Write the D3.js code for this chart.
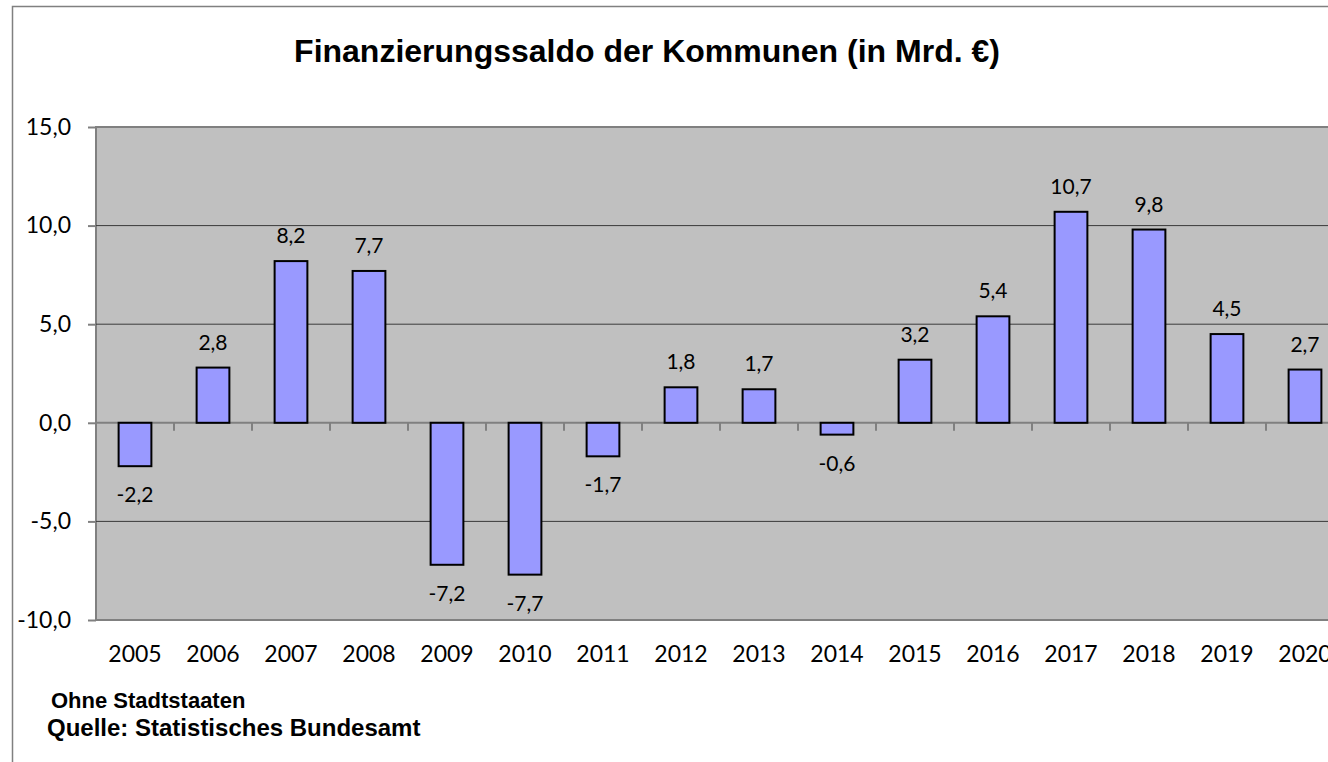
<!DOCTYPE html>
<html lang="de">

<head>
    <meta charset="UTF-8">
    <script src="https://cdnjs.cloudflare.com/ajax/libs/d3/7.9.0/d3.min.js"></script>
    <title>Finanzierungssaldo der Kommunen</title>
    <style>
        body {
            margin: 0;
            background-color: white;
        }

        svg {
            display: block;
        }
    </style>
</head>

<body>
    <div id="content"></div>
    <script>
        // chart data
        const years = ["2005", "2006", "2007", "2008", "2009", "2010", "2011", "2012",
            "2013", "2014", "2015", "2016", "2017", "2018", "2019", "2020"];
        const saldo = [-2.2, 2.8, 8.2, 7.7, -7.2, -7.7, -1.7, 1.8, 1.7, -0.6, 3.2, 5.4, 10.7, 9.8, 4.5, 2.7];
        const yTicks = [-10, -5, 0, 5, 10, 15];

        const width = 1328;
        const height = 762;
        const plot = { left: 96, top: 127, bottom: 620, step: 78 };

        // german number format, plain hyphen as minus sign
        const de = d3.formatLocale({ decimal: ",", thousands: ".", grouping: [3], currency: ["", " €"], minus: "-" });
        const fmt = de.format(".1f");

        const svg = d3.select("#content").append("svg")
            .attr("width", width)
            .attr("height", height)
            .style("overflow", "hidden");

        // outer chart frame
        svg.append("rect")
            .attr("x", 12.5)
            .attr("y", 6.5)
            .attr("width", width + 20)
            .attr("height", height + 20)
            .attr("fill", "white")
            .attr("stroke", "#808080")
            .attr("stroke-width", 1.5);

        const x = d3.scaleBand()
            .domain(years)
            .range([plot.left, plot.left + plot.step * years.length])
            .paddingInner(0.58)
            .paddingOuter(0.29);

        const y = d3.scaleLinear()
            .domain([-10, 15])
            .range([plot.bottom, plot.top]);

        // plot area
        svg.append("rect")
            .attr("x", plot.left)
            .attr("y", y(15))
            .attr("width", plot.step * years.length)
            .attr("height", y(-10) - y(15))
            .attr("fill", "#c0c0c0")
            .attr("stroke", "#808080")
            .attr("stroke-width", 2);

        // gridlines
        svg.append("g")
            .selectAll("line")
            .data(yTicks.filter(d => d !== 0 && d !== 15 && d !== -10))
            .join("line")
            .attr("x1", plot.left)
            .attr("x2", plot.left + plot.step * years.length)
            .attr("y1", d => y(d))
            .attr("y2", d => y(d))
            .attr("stroke", "#3a3a3a")
            .attr("stroke-width", 1);

        // y axis
        const yAxis = d3.axisLeft(y)
            .tickValues(yTicks)
            .tickSize(8)
            .tickPadding(17)
            .tickFormat(fmt);
        const gy = svg.append("g")
            .attr("transform", `translate(${plot.left}, 0)`)
            .call(yAxis);
        gy.select(".domain").remove();
        gy.selectAll(".tick line").attr("stroke", "#808080").attr("stroke-width", 2);
        gy.selectAll("text")
            .attr("font-family", "Lato, sans-serif")
            .attr("font-size", 23)
            .attr("fill", "black");

        // x axis labels
        const xAxis = d3.axisBottom(x).tickSize(0).tickPadding(26);
        const gx = svg.append("g")
            .attr("transform", `translate(0, ${plot.bottom})`)
            .call(xAxis);
        gx.select(".domain").remove();
        gx.selectAll("text")
            .attr("font-family", "Lato, sans-serif")
            .attr("font-size", 23)
            .attr("fill", "black");

        // zero line with category ticks
        svg.append("line")
            .attr("x1", plot.left)
            .attr("x2", plot.left + plot.step * years.length)
            .attr("y1", y(0))
            .attr("y2", y(0))
            .attr("stroke", "#808080")
            .attr("stroke-width", 2);

        svg.append("g")
            .selectAll("line")
            .data(years.slice(1))
            .join("line")
            .attr("x1", d => x(d) - x.step() * x.paddingInner() / 2)
            .attr("x2", d => x(d) - x.step() * x.paddingInner() / 2)
            .attr("y1", y(0))
            .attr("y2", y(0) + 8)
            .attr("stroke", "#808080")
            .attr("stroke-width", 2);

        // bars
        svg.append("g")
            .selectAll("rect")
            .data(saldo)
            .join("rect")
            .attr("x", (d, i) => x(years[i]))
            .attr("y", d => y(Math.max(0, d)))
            .attr("width", x.bandwidth())
            .attr("height", d => Math.abs(y(d) - y(0)))
            .attr("fill", "#9999ff")
            .attr("stroke", "black")
            .attr("stroke-width", 2);

        // value labels
        svg.append("g")
            .selectAll("text")
            .data(saldo)
            .join("text")
            .attr("x", (d, i) => x(years[i]) + x.bandwidth() / 2)
            .attr("y", d => d >= 0 ? y(d) - 18 : y(d) + 36)
            .attr("text-anchor", "middle")
            .attr("font-family", "Lato, sans-serif")
            .attr("font-size", 21)
            .attr("fill", "black")
            .text(d => fmt(d));

        // title
        svg.append("text")
            .attr("x", 647)
            .attr("y", 62)
            .attr("text-anchor", "middle")
            .attr("font-family", "Liberation Sans, Arial, sans-serif")
            .attr("font-weight", "bold")
            .attr("font-size", 32)
            .text("Finanzierungssaldo der Kommunen (in Mrd. €)");

        // footnotes
        svg.append("text")
            .attr("x", 51)
            .attr("y", 708)
            .attr("font-family", "Liberation Sans, Arial, sans-serif")
            .attr("font-weight", "bold")
            .attr("font-size", 22)
            .text("Ohne Stadtstaaten");

        svg.append("text")
            .attr("x", 47)
            .attr("y", 736)
            .attr("font-family", "Liberation Sans, Arial, sans-serif")
            .attr("font-weight", "bold")
            .attr("font-size", 24)
            .text("Quelle: Statistisches Bundesamt");
    </script>
</body>

</html>
